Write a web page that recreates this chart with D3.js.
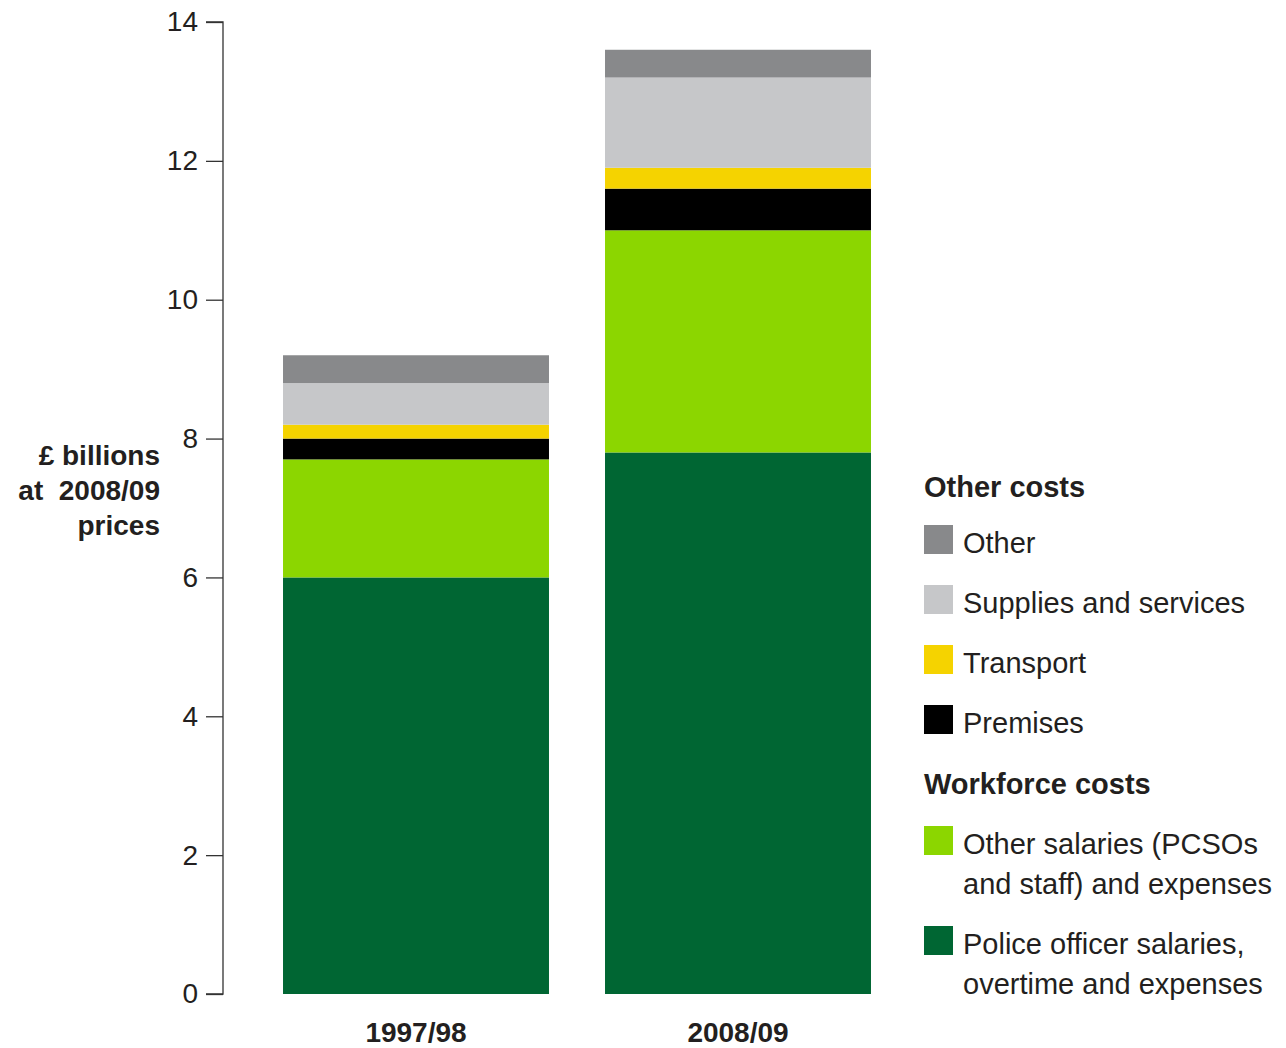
<!DOCTYPE html>
<html>
<head>
<meta charset="utf-8">
<script src="https://cdn.jsdelivr.net/npm/d3@7"></script>
<style>
  html, body { margin: 0; padding: 0; background: #fff; }
  svg { display: block; font-family: "Liberation Sans", Arial, Helvetica, sans-serif; }
</style>
</head>
<body>
<svg id="chart" width="1286" height="1048"></svg>
<script>
// ---- data ----
const categories = ["1997/98", "2008/09"];
const seriesKeys = ["police", "otherSalaries", "premises", "transport", "supplies", "other"];
const police        = [6.0, 7.8];
const otherSalaries = [1.7, 3.2];
const premises      = [0.3, 0.6];
const transport     = [0.2, 0.3];
const supplies      = [0.6, 1.3];
const other         = [0.4, 0.4];
const yTicks = [0, 2, 4, 6, 8, 10, 12, 14];
const yLabelLines = ["£ billions", "at  2008/09", "prices"];
const otherCostsTitle = "Other costs";
const workforceTitle = "Workforce costs";
const legendOther = [
  {key: "other", label: ["Other"]},
  {key: "supplies", label: ["Supplies and services"]},
  {key: "transport", label: ["Transport"]},
  {key: "premises", label: ["Premises"]}
];
const legendWorkforce = [
  {key: "otherSalaries", label: ["Other salaries (PCSOs", "and staff) and expenses"]},
  {key: "police", label: ["Police officer salaries,", "overtime and expenses"]}
];

const colors = {
  police: "#006633",
  otherSalaries: "#8cd600",
  premises: "#000000",
  transport: "#f5d300",
  supplies: "#c6c7c9",
  other: "#88898b"
};
const textColor = "#231f20";

// ---- build table ----
const seriesData = {police, otherSalaries, premises, transport, supplies, other};
const table = categories.map((c, i) => {
  const row = {cat: c};
  seriesKeys.forEach(k => row[k] = seriesData[k][i]);
  return row;
});
const stacked = d3.stack().keys(seriesKeys)(table);

const svg = d3.select("#chart");

const y = d3.scaleLinear().domain([0, 14]).range([994, 22]);
const x = d3.scaleBand().domain(categories).range([255, 899])
  .paddingInner(0.174).paddingOuter(0.087);

// bars
svg.append("g").selectAll("g")
  .data(stacked)
  .join("g")
  .attr("fill", d => colors[d.key])
  .selectAll("rect")
  .data(d => d)
  .join("rect")
  .attr("x", d => x(d.data.cat))
  .attr("width", x.bandwidth())
  .attr("y", d => y(d[1]))
  .attr("height", d => y(d[0]) - y(d[1]));

// y axis
const yAxis = d3.axisLeft(y).tickValues(yTicks).tickSize(17).tickPadding(8).tickFormat(d3.format("d"));
const gy = svg.append("g").attr("transform", "translate(223,0)").call(yAxis);
gy.select(".domain").attr("stroke", "#333").attr("stroke-width", 1.3)
  .attr("d", `M-17,${y(14)}H0V${y(0)}H-17`);
gy.selectAll(".tick line").attr("stroke", "#333").attr("stroke-width", 1.3);
gy.selectAll(".tick text").attr("fill", textColor).style("font-size", "28px")
  .style("font-family", "'Liberation Sans', Arial, sans-serif");

// x labels
const gx = svg.append("g").attr("transform", `translate(0,${y(0)})`)
  .call(d3.axisBottom(x).tickSize(0).tickPadding(48));
gx.select(".domain").remove();
gx.selectAll(".tick text").attr("fill", textColor).style("font-size", "28px")
  .style("font-weight", "bold").style("font-family", "'Liberation Sans', Arial, sans-serif")
  .attr("dy", 0);

// y label
const yl = svg.append("text").attr("text-anchor", "end").attr("fill", textColor)
  .style("font-size", "28px").style("font-weight", "bold");
yLabelLines.forEach((t, i) => {
  yl.append("tspan").attr("x", 160).attr("y", 465 + i * 35).attr("xml:space", "preserve").text(t);
});

// legend
const lg = svg.append("g").style("font-size", "29px").attr("fill", textColor);
lg.append("text").attr("x", 924).attr("y", 497).style("font-weight", "bold").text(otherCostsTitle);
legendOther.forEach((item, i) => {
  const top = 525 + i * 60;
  lg.append("rect").attr("x", 924).attr("y", top).attr("width", 29).attr("height", 29).attr("fill", colors[item.key]);
  lg.append("text").attr("x", 963).attr("y", top + 28).text(item.label[0]);
});
lg.append("text").attr("x", 924).attr("y", 794).style("font-weight", "bold").text(workforceTitle);
legendWorkforce.forEach((item, i) => {
  const top = 826 + i * 100;
  lg.append("rect").attr("x", 924).attr("y", top).attr("width", 29).attr("height", 29).attr("fill", colors[item.key]);
  item.label.forEach((t, j) => {
    lg.append("text").attr("x", 963).attr("y", top + 28 + j * 40).text(t);
  });
});
</script>
</body>
</html>
